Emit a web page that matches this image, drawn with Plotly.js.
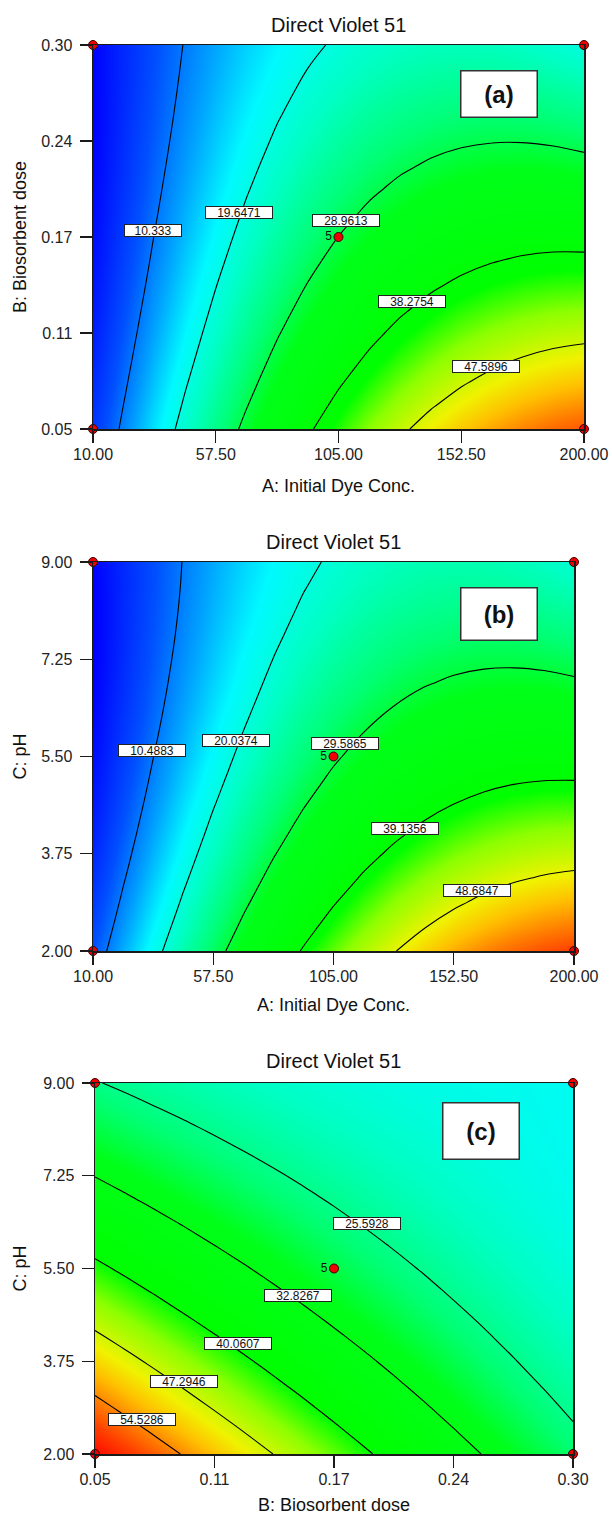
<!DOCTYPE html>
<html>
<head>
<meta charset="utf-8">
<script src="https://cdn.plot.ly/plotly-3.0.1.min.js"></script>
<style>
  html, body { margin: 0; padding: 0; background: #ffffff; }
  #chart { width: 612px; height: 1518px; }
</style>
</head>
<body>
<div id="chart"></div>
<script>
// ---- Factor grids (17 levels per factor) ----
const dyeConc = [10, 21.875, 33.75, 45.625, 57.5, 69.375, 81.25, 93.125, 105,
                 116.875, 128.75, 140.625, 152.5, 164.375, 176.25, 188.125, 200];
const biosorbentDose = [0.05, 0.065625, 0.08125, 0.096875, 0.1125, 0.128125, 0.14375, 0.159375, 0.175,
                        0.190625, 0.20625, 0.221875, 0.2375, 0.253125, 0.26875, 0.284375, 0.30];
const pHLevels = [2, 2.4375, 2.875, 3.3125, 3.75, 4.1875, 4.625, 5.0625, 5.5,
                  5.9375, 6.375, 6.8125, 7.25, 7.6875, 8.125, 8.5625, 9];

// ---- Uptake of Direct Violet 51 (rows follow the y factor, columns the x factor) ----
// (a) biosorbent dose (rows) vs initial dye concentration (columns), pH 5.5
const uptakeDoseConc = [
  [5.70, 11.17, 16.34, 21.21, 25.78, 30.04, 33.99, 37.65, 41.00, 44.05, 46.79, 49.24, 51.38, 53.21, 54.74, 55.97, 56.90],
  [5.04, 10.38, 15.43, 20.17, 24.61, 28.74, 32.57, 36.10, 39.33, 42.25, 44.87, 47.18, 49.19, 50.90, 52.31, 53.41, 54.21],
  [4.43,  9.65, 14.56, 19.18, 23.49, 27.50, 31.20, 34.60, 37.70, 40.50, 42.99, 45.18, 47.06, 48.65, 49.93, 50.90, 51.58],
  [3.86,  8.96, 13.75, 18.23, 22.42, 26.30, 29.88, 33.15, 36.13, 38.79, 41.16, 43.22, 44.98, 46.44, 47.59, 48.44, 48.99],
  [3.35,  8.32, 12.98, 17.34, 21.40, 25.15, 28.61, 31.75, 34.60, 37.14, 39.38, 41.32, 42.95, 44.28, 45.31, 46.03, 46.45],
  [2.89,  7.73, 12.27, 16.50, 20.43, 24.06, 27.38, 30.41, 33.13, 35.54, 37.65, 39.46, 40.97, 42.17, 43.07, 43.67, 43.96],
  [2.48,  7.19, 11.60, 15.71, 19.51, 23.01, 26.21, 29.11, 31.70, 33.99, 35.98, 37.66, 39.04, 40.11, 40.89, 41.36, 41.53],
  [2.11,  6.70, 10.98, 14.97, 18.64, 22.02, 25.09, 27.86, 30.33, 32.49, 34.35, 35.90, 37.16, 38.11, 38.75, 39.10, 39.14],
  [1.80,  6.26, 10.42, 14.27, 17.83, 21.07, 24.02, 26.66, 29.00, 31.04, 32.77, 34.20, 35.33, 36.15, 36.67, 36.89, 36.80],
  [1.54,  5.87,  9.90, 13.63, 17.06, 20.18, 23.00, 25.51, 27.73, 29.63, 31.24, 32.54, 33.54, 34.24, 34.63, 34.73, 34.51],
  [1.33,  5.53,  9.44, 13.04, 16.34, 19.33, 22.03, 24.41, 26.50, 28.28, 29.76, 30.94, 31.81, 32.38, 32.65, 32.61, 32.28],
  [1.16,  5.24,  9.02, 12.50, 15.67, 18.54, 21.10, 23.37, 25.33, 26.98, 28.33, 29.38, 30.13, 30.58, 30.72, 30.55, 30.09],
  [1.05,  5.00,  8.66, 12.00, 15.05, 17.79, 20.23, 22.37, 24.20, 25.73, 26.96, 27.88, 28.50, 28.82, 28.83, 28.54, 27.95],
  [0.99,  4.82,  8.34, 11.56, 14.48, 17.10, 19.41, 21.42, 23.13, 24.53, 25.63, 26.43, 26.92, 27.11, 27.00, 26.58, 25.86],
  [0.98,  4.68,  8.08, 11.17, 13.96, 16.45, 18.64, 20.52, 22.10, 23.38, 24.35, 25.02, 25.39, 25.45, 25.21, 24.67, 23.83],
  [1.01,  4.59,  7.86, 10.83, 13.49, 15.86, 17.92, 19.67, 21.13, 22.28, 23.12, 23.67, 23.91, 23.84, 23.48, 22.81, 21.84],
  [1.10,  4.55,  7.69, 10.54, 13.08, 15.31, 17.24, 18.87, 20.20, 21.22, 21.94, 22.36, 22.48, 22.29, 21.79, 20.80, 19.90]
];
// (b) pH (rows) vs initial dye concentration (columns), dose 0.175
const uptakePhConc = [
  [8.02, 13.43, 18.53, 23.34, 27.84, 32.03, 35.92, 39.51, 42.80, 45.78, 48.46, 50.84, 52.92, 54.69, 56.15, 57.32, 58.18],
  [6.95, 12.24, 17.22, 21.91, 26.29, 30.37, 34.14, 37.61, 40.78, 43.64, 46.21, 48.47, 50.42, 52.07, 53.42, 54.47, 55.21],
  [5.96, 11.13, 16.00, 20.56, 24.83, 28.79, 32.44, 35.79, 38.84, 41.59, 44.03, 46.17, 48.01, 49.55, 50.78, 51.70, 52.33],
  [5.05, 10.11, 14.86, 19.30, 23.45, 27.29, 30.83, 34.06, 36.99, 39.62, 41.95, 43.97, 45.69, 47.10, 48.21, 49.02, 49.53],
  [4.24,  9.17, 13.80, 18.13, 22.16, 25.88, 29.30, 32.41, 35.23, 37.73, 39.94, 41.84, 43.45, 44.74, 45.74, 46.43, 46.82],
  [3.50,  8.32, 12.83, 17.04, 20.95, 24.55, 27.85, 30.85, 33.54, 35.93, 38.02, 39.81, 41.29, 42.47, 43.34, 43.92, 44.18],
  [2.85,  7.55, 11.94, 16.03, 19.82, 23.31, 26.49, 29.37, 31.94, 34.22, 36.19, 37.85, 39.22, 40.28, 41.03, 41.49, 41.64],
  [2.28,  6.86, 11.14, 15.11, 18.78, 22.15, 25.21, 27.97, 30.43, 32.58, 34.44, 35.98, 37.23, 38.17, 38.81, 39.14, 39.18],
  [1.80,  6.26, 10.42, 14.27, 17.83, 21.07, 24.02, 26.66, 29.00, 31.04, 32.77, 34.20, 35.33, 36.15, 36.67, 36.89, 36.80],
  [1.40,  5.74,  9.78, 13.52, 16.95, 20.08, 22.91, 25.43, 27.65, 29.57, 31.19, 32.50, 33.51, 34.21, 34.61, 34.71, 34.51],
  [1.09,  5.31,  9.23, 12.85, 16.17, 19.18, 21.89, 24.29, 26.39, 28.19, 29.69, 30.88, 31.77, 32.36, 32.64, 32.62, 32.30],
  [0.86,  4.97,  8.77, 12.27, 15.46, 18.36, 20.95, 23.23, 25.22, 26.90, 28.28, 29.35, 30.12, 30.59, 30.75, 30.62, 30.17],
  [0.72,  4.70,  8.39, 11.77, 14.85, 17.62, 20.09, 22.26, 24.13, 25.69, 26.95, 27.90, 28.56, 28.90, 28.95, 28.69, 28.14],
  [0.65,  4.52,  8.09, 11.35, 14.31, 16.97, 19.32, 21.37, 23.12, 24.56, 25.70, 26.54, 27.07, 27.30, 27.23, 26.86, 26.18],
  [0.68,  4.43,  7.88, 11.02, 13.86, 16.40, 18.63, 20.57, 22.19, 23.52, 24.54, 25.26, 25.68, 25.79, 25.60, 25.11, 24.31],
  [0.79,  4.42,  7.75, 10.77, 13.50, 15.92, 18.03, 19.84, 21.35, 22.56, 23.47, 24.07, 24.36, 24.36, 24.05, 23.44, 22.52],
  [0.98,  4.49,  7.70, 10.61, 13.22, 15.52, 17.51, 19.21, 20.60, 21.69, 22.47, 22.96, 23.14, 23.01, 22.58, 21.85, 20.82]
];
// (c) pH (rows) vs biosorbent dose (columns), concentration 105
const uptakePhDose = [
  [61.60, 59.08, 56.60, 54.18, 51.80, 49.48, 47.20, 44.98, 42.80, 40.68, 38.60, 36.58, 34.60, 32.68, 30.80, 28.98, 27.20],
  [58.73, 56.31, 53.94, 51.62, 49.35, 47.14, 44.97, 42.85, 40.78, 38.76, 36.79, 34.87, 33.00, 31.19, 29.42, 27.70, 26.03],
  [55.94, 53.63, 51.37, 49.16, 46.99, 44.88, 42.82, 40.81, 38.84, 36.93, 35.07, 33.26, 31.49, 29.78, 28.12, 26.51, 24.94],
  [53.24, 51.04, 48.88, 46.77, 44.72, 42.71, 40.75, 38.85, 36.99, 35.19, 33.43, 31.72, 30.07, 28.46, 26.90, 25.40, 23.94],
  [50.63, 48.53, 46.48, 44.48, 42.53, 40.63, 38.78, 36.98, 35.23, 33.53, 31.88, 30.28, 28.73, 27.23, 25.78, 24.38, 23.03],
  [48.09, 46.10, 44.15, 42.26, 40.42, 38.62, 36.88, 35.19, 33.54, 31.95, 30.40, 28.91, 27.47, 26.07, 24.73, 23.44, 22.19],
  [45.64, 43.76, 41.92, 40.13, 38.39, 36.71, 35.07, 33.48, 31.94, 30.46, 29.02, 27.63, 26.29, 25.01, 23.77, 22.58, 21.44],
  [43.28, 41.50, 39.77, 38.09, 36.45, 34.87, 33.34, 31.86, 30.43, 29.05, 27.72, 26.44, 25.20, 24.02, 22.89, 21.81, 20.78],
  [41.00, 39.33, 37.70, 36.13, 34.60, 33.13, 31.70, 30.33, 29.00, 27.73, 26.50, 25.33, 24.20, 23.13, 22.10, 21.13, 20.20],
  [38.80, 37.24, 35.72, 34.25, 32.83, 31.46, 30.14, 28.87, 27.65, 26.49, 25.37, 24.30, 23.28, 22.31, 21.39, 20.52, 19.70],
  [36.69, 35.23, 33.82, 32.46, 31.14, 29.88, 28.67, 27.51, 26.39, 25.33, 24.32, 23.36, 22.44, 21.58, 20.77, 20.01, 19.29],
  [34.67, 33.31, 32.00, 30.75, 29.54, 28.39, 27.28, 26.22, 25.22, 24.26, 23.35, 22.50, 21.69, 20.94, 20.23, 19.57, 18.97],
  [32.73, 31.48, 30.28, 29.13, 28.03, 26.98, 25.98, 25.03, 24.13, 23.28, 22.48, 21.73, 21.03, 20.38, 19.78, 19.23, 18.73],
  [30.87, 29.72, 28.63, 27.59, 26.59, 25.65, 24.75, 23.91, 23.12, 22.37, 21.68, 21.04, 20.44, 19.90, 19.40, 18.96, 18.57],
  [29.09, 28.06, 27.07, 26.13, 25.24, 24.41, 23.62, 22.88, 22.19, 21.56, 20.97, 20.43, 19.94, 19.51, 19.12, 18.78, 18.49],
  [27.40, 26.47, 25.59, 24.76, 23.98, 23.25, 22.57, 21.94, 21.35, 20.82, 20.34, 19.91, 19.53, 19.20, 18.92, 18.69, 18.50],
  [25.80, 24.98, 24.20, 23.48, 22.80, 22.18, 21.60, 21.08, 20.60, 20.18, 19.80, 19.48, 19.20, 18.98, 18.80, 18.68, 18.60]
];

// ---- Labelled contour levels ----
const levelsDoseConc = [10.333, 19.6471, 28.9613, 38.2754, 47.5896];
const levelsPhConc   = [10.4883, 20.0374, 29.5865, 39.1356, 48.6847];
const levelsPhDose   = [25.5928, 32.8267, 40.0607, 47.2946, 54.5286];

// ---- Axis ticks ----
const concTicks     = [10, 57.5, 105, 152.5, 200];
const concTickText  = ['10.00', '57.50', '105.00', '152.50', '200.00'];
const doseTicks     = [0.05, 0.1125, 0.175, 0.2375, 0.30];
const doseTickText  = ['0.05', '0.11', '0.17', '0.24', '0.30'];
const phTicks       = [2, 3.75, 5.5, 7.25, 9];
const phTickText    = ['2.00', '3.75', '5.50', '7.25', '9.00'];

// ---- Design points: factorial corners and the replicated centre ----
const concDesign = [10, 105, 200];
const doseDesign = [0.05, 0.175, 0.30];
const phDesign   = [2, 5.5, 9];
const designRuns = [[0, 0], [0, 2], [2, 0], [2, 2], [1, 1]];   // indices (low / centre / high)
const runLabels  = ['', '', '', '', '5'];

// ---- Presentation ----
const W = 612, H = 1518;
const FONT = 'Liberation Sans, Arial, Helvetica, sans-serif';
const INK = '#1a1a1a';

// colour ramp on the uptake value, shared by all three panels
const rampValues = [0.9, 8, 13, 17.5, 22, 27, 31, 40, 44, 49, 52, 55, 58, 61.8];
const rampColors = ['rgb(0,0,255)', 'rgb(0,80,255)', 'rgb(0,165,255)', 'rgb(0,250,255)',
                    'rgb(0,255,195)', 'rgb(0,255,115)', 'rgb(0,255,25)', 'rgb(0,255,0)',
                    'rgb(140,255,0)', 'rgb(240,242,0)', 'rgb(255,190,0)', 'rgb(255,125,0)',
                    'rgb(255,65,0)', 'rgb(255,5,0)'];
const zLo = rampValues[0], zHi = rampValues[rampValues.length - 1];
const colorscale = rampValues.map((v, i) => [(v - zLo) / (zHi - zLo), rampColors[i]]);

const panels = [
  { box: {l: 93, r: 584, t: 45, b: 429},
    x: dyeConc, y: biosorbentDose, z: uptakeDoseConc, levels: levelsDoseConc,
    xTicks: concTicks, xText: concTickText, yTicks: doseTicks, yText: doseTickText,
    xDesign: concDesign, yDesign: doseDesign,
    xTitle: 'A: Initial Dye Conc.', yTitle: 'B: Biosorbent dose', tag: '(a)',
    labelAt: [[33.2, 0.179], [66.5, 0.191], [107.9, 0.186], [133.4, 0.133], [162.1, 0.0904]],
    tagBox: {cx: 499, cy: 94, w: 75, h: 45},
    titleY: 25, xTitleY: 486, yTitleX: 20 },
  { box: {l: 93, r: 574, t: 562, b: 951},
    x: dyeConc, y: pHLevels, z: uptakePhConc, levels: levelsPhConc,
    xTicks: concTicks, xText: concTickText, yTicks: phTicks, yText: phTickText,
    xDesign: concDesign, yDesign: phDesign,
    xTitle: 'A: Initial Dye Conc.', yTitle: 'C: pH', tag: '(b)',
    labelAt: [[33.5, 5.61], [66.5, 5.79], [109.5, 5.74], [133.2, 4.20], [161.7, 3.09]],
    tagBox: {cx: 499, cy: 614, w: 75, h: 51},
    titleY: 542, xTitleY: 1005, yTitleX: 19 },
  { box: {l: 95, r: 573, t: 1083, b: 1454},
    x: biosorbentDose, y: pHLevels, z: uptakePhDose, levels: levelsPhDose,
    xTicks: doseTicks, xText: doseTickText, yTicks: phTicks, yText: phTickText,
    xDesign: doseDesign, yDesign: phDesign,
    xTitle: 'B: Biosorbent dose', yTitle: 'C: pH', tag: '(c)',
    labelAt: [[0.1923, 6.34], [0.1562, 5.00], [0.1248, 4.09], [0.0965, 3.36], [0.0744, 2.66]],
    tagBox: {cx: 481, cy: 1131, w: 75, h: 55},
    titleY: 1061, xTitleY: 1505, yTitleX: 19 }
];

const px = v => v / W;
const py = v => 1 - v / H;

function axisBase(extra) {
  return Object.assign({
    showgrid: false, zeroline: false, showline: true, mirror: true,
    linecolor: INK, linewidth: 1.5,
    ticks: 'outside', ticklen: 12, tickwidth: 1.3, tickcolor: INK,
    tickfont: {family: FONT, size: 16, color: '#222'},
    tickmode: 'array', fixedrange: true
  }, extra);
}

const traces = [];
const layout = {
  width: W, height: H,
  margin: {l: 0, r: 0, t: 0, b: 0},
  paper_bgcolor: '#ffffff', plot_bgcolor: '#ffffff',
  showlegend: false,
  font: {family: FONT, color: '#111'},
  annotations: []
};

panels.forEach((p, i) => {
  const n = i === 0 ? '' : String(i + 1);
  const xa = 'x' + n, ya = 'y' + n;
  const step = (p.levels[p.levels.length - 1] - p.levels[0]) / (p.levels.length - 1);

  layout['xaxis' + n] = axisBase({
    domain: [px(p.box.l), px(p.box.r)], anchor: ya,
    range: [p.x[0], p.x[p.x.length - 1]],
    tickvals: p.xTicks, ticktext: p.xText, ticklabelstandoff: -2
  });
  layout['yaxis' + n] = axisBase({
    domain: [py(p.box.b), py(p.box.t)], anchor: xa,
    range: [p.y[0], p.y[p.y.length - 1]],
    tickvals: p.yTicks, ticktext: p.yText, ticklabelstandoff: 4
  });

  // response surface: smooth colour field with black iso-lines
  traces.push({
    type: 'contour', xaxis: xa, yaxis: ya,
    x: p.x, y: p.y, z: p.z,
    zauto: false, zmin: zLo, zmax: zHi,
    colorscale: colorscale, showscale: false,
    autocontour: false,
    contours: {coloring: 'heatmap', start: p.levels[0], end: p.levels[p.levels.length - 1] + step * 0.01,
               size: step, showlabels: false},
    line: {color: '#000000', width: 1.1, smoothing: 1},
    hoverinfo: 'skip'
  });

  // design points
  traces.push({
    type: 'scatter', mode: 'markers+text', xaxis: xa, yaxis: ya,
    x: designRuns.map(r => p.xDesign[r[0]]),
    y: designRuns.map(r => p.yDesign[r[1]]),
    text: runLabels, textposition: 'middle left',
    textfont: {family: FONT, size: 12, color: '#111'},
    marker: {size: 9, color: '#f00000', line: {color: '#3a0000', width: 1}},
    cliponaxis: false, hoverinfo: 'skip'
  });

  // contour value labels in boxes
  p.levels.forEach((lv, k) => {
    const txt = String(lv);
    layout.annotations.push({
      xref: xa, yref: ya, x: p.labelAt[k][0], y: p.labelAt[k][1],
      text: txt, showarrow: false,
      font: {family: FONT, size: 12, color: '#111'},
      bgcolor: '#ffffff', bordercolor: '#222', borderwidth: 1, borderpad: 0,
      width: 10 * txt.length - 4, height: 11,
      xanchor: 'center', yanchor: 'middle'
    });
  });

  const cx = (p.box.l + p.box.r) / 2, cy = (p.box.t + p.box.b) / 2;
  // panel title
  layout.annotations.push({
    xref: 'paper', yref: 'paper', x: px(cx), y: py(p.titleY),
    text: 'Direct Violet 51', showarrow: false,
    font: {family: FONT, size: 20, color: '#111'}, xanchor: 'center', yanchor: 'middle'
  });
  // axis titles
  layout.annotations.push({
    xref: 'paper', yref: 'paper', x: px(cx), y: py(p.xTitleY),
    text: p.xTitle, showarrow: false,
    font: {family: FONT, size: 18, color: '#111'}, xanchor: 'center', yanchor: 'middle'
  });
  layout.annotations.push({
    xref: 'paper', yref: 'paper', x: px(p.yTitleX), y: py(cy),
    text: p.yTitle, showarrow: false, textangle: -90,
    font: {family: FONT, size: 18, color: '#111'}, xanchor: 'center', yanchor: 'middle'
  });
  // panel tag
  layout.annotations.push({
    xref: 'paper', yref: 'paper', x: px(p.tagBox.cx), y: py(p.tagBox.cy),
    text: '<b>' + p.tag + '</b>', showarrow: false,
    font: {family: FONT, size: 24, color: '#111'},
    bgcolor: '#ffffff', bordercolor: '#333', borderwidth: 1.5, borderpad: 0,
    width: p.tagBox.w, height: p.tagBox.h, xanchor: 'center', yanchor: 'middle'
  });
});

Plotly.newPlot('chart', traces, layout, {displayModeBar: false, staticPlot: true});
</script>
</body>
</html>
